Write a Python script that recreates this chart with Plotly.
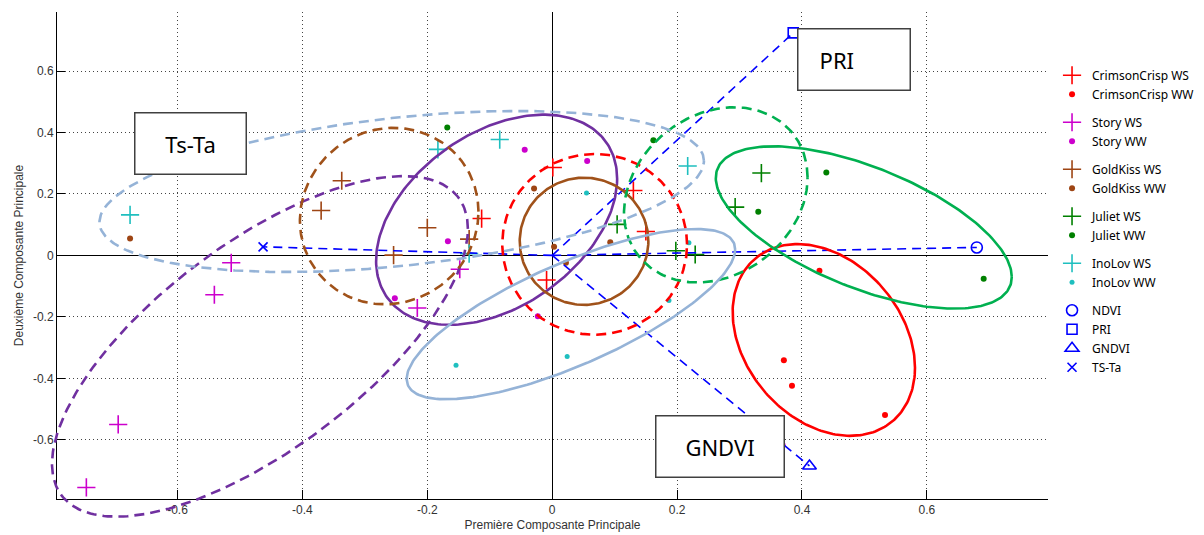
import numpy as np
import plotly.graph_objects as go

# ---------------- data ----------------
crimson_ws_x = [0.001, 0.130, -0.113, 0.150, -0.009]
crimson_ws_y = [0.286, 0.211, 0.120, 0.078, -0.080]
crimson_ww_x = [0.371, 0.384, 0.533, 0.428]
crimson_ww_y = [-0.341, -0.424, -0.519, -0.050]
story_ws_x = [-0.514, -0.541, -0.695, -0.746, -0.148, -0.216]
story_ws_y = [-0.024, -0.128, -0.550, -0.755, -0.045, -0.171]
story_ww_x = [-0.044, 0.056, -0.167, -0.252, -0.023, 0.369]
story_ww_y = [0.344, 0.307, 0.046, -0.139, -0.198, -0.617]
goldkiss_ws_x = [-0.337, -0.370, -0.200, -0.133, -0.254]
goldkiss_ws_y = [0.243, 0.146, 0.090, 0.053, 0.001]
goldkiss_ww_x = [-0.676, -0.029, 0.003, 0.022, 0.093]
goldkiss_ww_y = [0.055, 0.218, 0.028, -0.024, 0.043]
juliet_ws_x = [0.335, 0.293, 0.104, 0.198, 0.229]
juliet_ws_y = [0.268, 0.157, 0.101, 0.015, 0.003]
juliet_ww_x = [-0.168, 0.162, 0.439, 0.330, 0.691]
juliet_ww_y = [0.416, 0.375, 0.270, 0.142, -0.076]
inolov_ws_x = [-0.676, -0.183, -0.084, 0.217, -0.133]
inolov_ws_y = [0.132, 0.345, 0.377, 0.291, 0.006]
inolov_ww_x = [0.055, 0.219, 0.187, -0.154, 0.024]
inolov_ww_y = [0.203, 0.041, -0.147, -0.357, -0.329]

var_names = ["NDVI", "PRI", "GNDVI", "TS-Ta"]
var_x = [0.680, 0.386, 0.412, -0.463]
var_y = [0.026, 0.724, -0.685, 0.028]

# confidence ellipses: centre x, centre y, half-width x, half-height y, correlation
ell_crimson_ws = [0.068, 0.036, 0.148, 0.294, 0.0]
ell_crimson_ww = [0.435, -0.275, 0.146, 0.312, -0.29]
ell_story_ws = [-0.468, -0.296, 0.333, 0.554, 0.69]
ell_story_ww = [-0.089, 0.116, 0.193, 0.342, 0.39]
ell_goldkiss_ws = [-0.261, 0.128, 0.143, 0.287, 0.05]
ell_goldkiss_ww = [0.051, 0.046, 0.103, 0.207, 0.0]
ell_juliet_ws = [0.262, 0.197, 0.147, 0.285, 0.2]
ell_juliet_ww = [0.499, 0.091, 0.237, 0.264, -0.61]
ell_inolov_ws = [-0.241, 0.208, 0.484, 0.262, 0.38]
ell_inolov_ww = [0.030, -0.191, 0.263, 0.277, 0.76]

box_labels = ["Ts-Ta", "PRI", "GNDVI"]
box_x = [-0.579, 0.483, 0.268]
box_y = [0.363, 0.637, -0.622]

tick_vals = [-0.6, -0.4, -0.2, 0, 0.2, 0.4, 0.6]
tick_text = ["-0.6", "-0.4", "-0.2", "0", "0.2", "0.4", "0.6"]

# ---------------- styling ----------------
W, H = 1204, 535
M = dict(l=40, r=156, t=12, b=10)
x_range = [-0.793, 0.794]
y_range = [-0.7925, 0.792]
dx0 = 17 / (W - M["l"] - M["r"])
dy0 = 26 / (H - M["t"] - M["b"])
# overlay axes covering the whole paper area with the same scale (ellipses are not clipped)
x2_span = (x_range[1] - x_range[0]) / (1 - dx0)
y2_span = (y_range[1] - y_range[0]) / (1 - dy0)
x2_range = [x_range[1] - x2_span, x_range[1]]
y2_range = [y_range[1] - y2_span, y_range[1]]

groups = [
    ("CrimsonCrisp", crimson_ws_x, crimson_ws_y, crimson_ww_x, crimson_ww_y,
     "#FF0000", "#FF0000", "#FF0000", ell_crimson_ws, ell_crimson_ww),
    ("Story", story_ws_x, story_ws_y, story_ww_x, story_ww_y,
     "#CC00CC", "#CC00CC", "#7030A0", ell_story_ws, ell_story_ww),
    ("GoldKiss", goldkiss_ws_x, goldkiss_ws_y, goldkiss_ww_x, goldkiss_ww_y,
     "#9E4514", "#9E4514", "#A0521A", ell_goldkiss_ws, ell_goldkiss_ww),
    ("Juliet", juliet_ws_x, juliet_ws_y, juliet_ww_x, juliet_ww_y,
     "#008000", "#008000", "#00B050", ell_juliet_ws, ell_juliet_ww),
    ("InoLov", inolov_ws_x, inolov_ws_y, inolov_ww_x, inolov_ww_y,
     "#1FBFBF", "#1FBFBF", "#95B3D7", ell_inolov_ws, ell_inolov_ww),
]


def ellipse(p, n=240):
    cx, cy, rx, ry, rho = p
    t = np.linspace(0, 2 * np.pi, n)
    return cx + rx * np.cos(t), cy + ry * (rho * np.cos(t) + np.sqrt(1 - rho ** 2) * np.sin(t))


fig = go.Figure()

for name, wsx, wsy, wwx, wwy, c_ws, c_ww, c_ell, e_ws, e_ww in groups:
    fig.add_trace(go.Scatter(
        x=wsx, y=wsy, mode="markers", name=name + " WS", legendgroup=name,
        marker=dict(symbol="cross-thin-open", size=13, color=c_ws,
                    line=dict(color=c_ws, width=1.6)),
        cliponaxis=False))
    fig.add_trace(go.Scatter(
        x=wwx, y=wwy, mode="markers", name=name + " WW", legendgroup=name,
        marker=dict(symbol="circle", size=6 if name != "InoLov" else 5, color=c_ww),
        cliponaxis=False))

var_symbols = ["circle-open", "square-open", "triangle-up-open", "x-thin-open"]
var_sizes = [11, 10, 12, 9]
for nm, vx, vy, sym, sz in zip(var_names, var_x, var_y, var_symbols, var_sizes):
    fig.add_trace(go.Scatter(
        x=[vx], y=[vy], mode="markers", name=nm, legendgroup="vars",
        marker=dict(symbol=sym, size=sz, color="#0000FF",
                    line=dict(color="#0000FF", width=1.6)),
        cliponaxis=False))

# loading vectors
for vx, vy in zip(var_x, var_y):
    fig.add_trace(go.Scatter(
        x=[0, vx], y=[0, vy], mode="lines", showlegend=False, hoverinfo="skip",
        line=dict(color="#0000FF", width=1.6, dash="9px,6px"),
        xaxis="x2", yaxis="y2"))

# ellipses
for name, wsx, wsy, wwx, wwy, c_ws, c_ww, c_ell, e_ws, e_ww in groups:
    ex, ey = ellipse(e_ws)
    fig.add_trace(go.Scatter(x=ex, y=ey, mode="lines", showlegend=False, hoverinfo="skip",
                             line=dict(color=c_ell, width=2.6, dash="10px,6px"),
                             xaxis="x2", yaxis="y2"))
    ex, ey = ellipse(e_ww)
    fig.add_trace(go.Scatter(x=ex, y=ey, mode="lines", showlegend=False, hoverinfo="skip",
                             line=dict(color=c_ell, width=2.6),
                             xaxis="x2", yaxis="y2"))

box_widths = [110, 111, 127]
box_text = ["Ts-Ta", "PRI" + "&nbsp;" * 6, "GNDVI"]
for lab, bx, by, bw in zip(box_text, box_x, box_y, box_widths):
    fig.add_annotation(x=bx, y=by, xref="x", yref="y", text=lab, showarrow=False,
                       width=bw, height=60, align="center", valign="middle",
                       bgcolor="white", bordercolor="#404040", borderwidth=1.5, borderpad=0,
                       font=dict(family="Noto Sans", size=22, color="black"))

axis_font = dict(family="Liberation Sans, Arial", size=12, color="#333333")
common = dict(showline=True, linecolor="black", linewidth=1, ticks="inside",
              tickcolor="black", tickvals=tick_vals, ticktext=tick_text,
              showgrid=True, gridcolor="#444444", griddash="1px,3px", gridwidth=1,
              zeroline=True, zerolinecolor="black", zerolinewidth=1,
              tickfont=axis_font, automargin=False, mirror=False)

fig.update_layout(
    width=W, height=H, margin=dict(M, pad=0, autoexpand=False),
    paper_bgcolor="white", plot_bgcolor="rgba(0,0,0,0)",
    xaxis=dict(common, range=x_range, domain=[dx0, 1], ticklen=9,
               title=dict(text="Première Composante Principale", font=axis_font, standoff=4)),
    yaxis=dict(common, range=y_range, domain=[dy0, 1], ticklen=8,
               title=dict(text="Deuxième Composante Principale", font=axis_font, standoff=6)),
    xaxis2=dict(range=x2_range, domain=[0, 1], visible=False, anchor="y2", fixedrange=True),
    yaxis2=dict(range=y2_range, domain=[0, 1], visible=False, anchor="x2", fixedrange=True),
    legend=dict(x=1.004, y=0.905, xanchor="left", yanchor="top",
                font=dict(family="Noto Sans", size=12, color="black"),
                tracegroupgap=9, bgcolor="rgba(0,0,0,0)", traceorder="grouped"),
    showlegend=True,
)

fig.write_html("out.html")
